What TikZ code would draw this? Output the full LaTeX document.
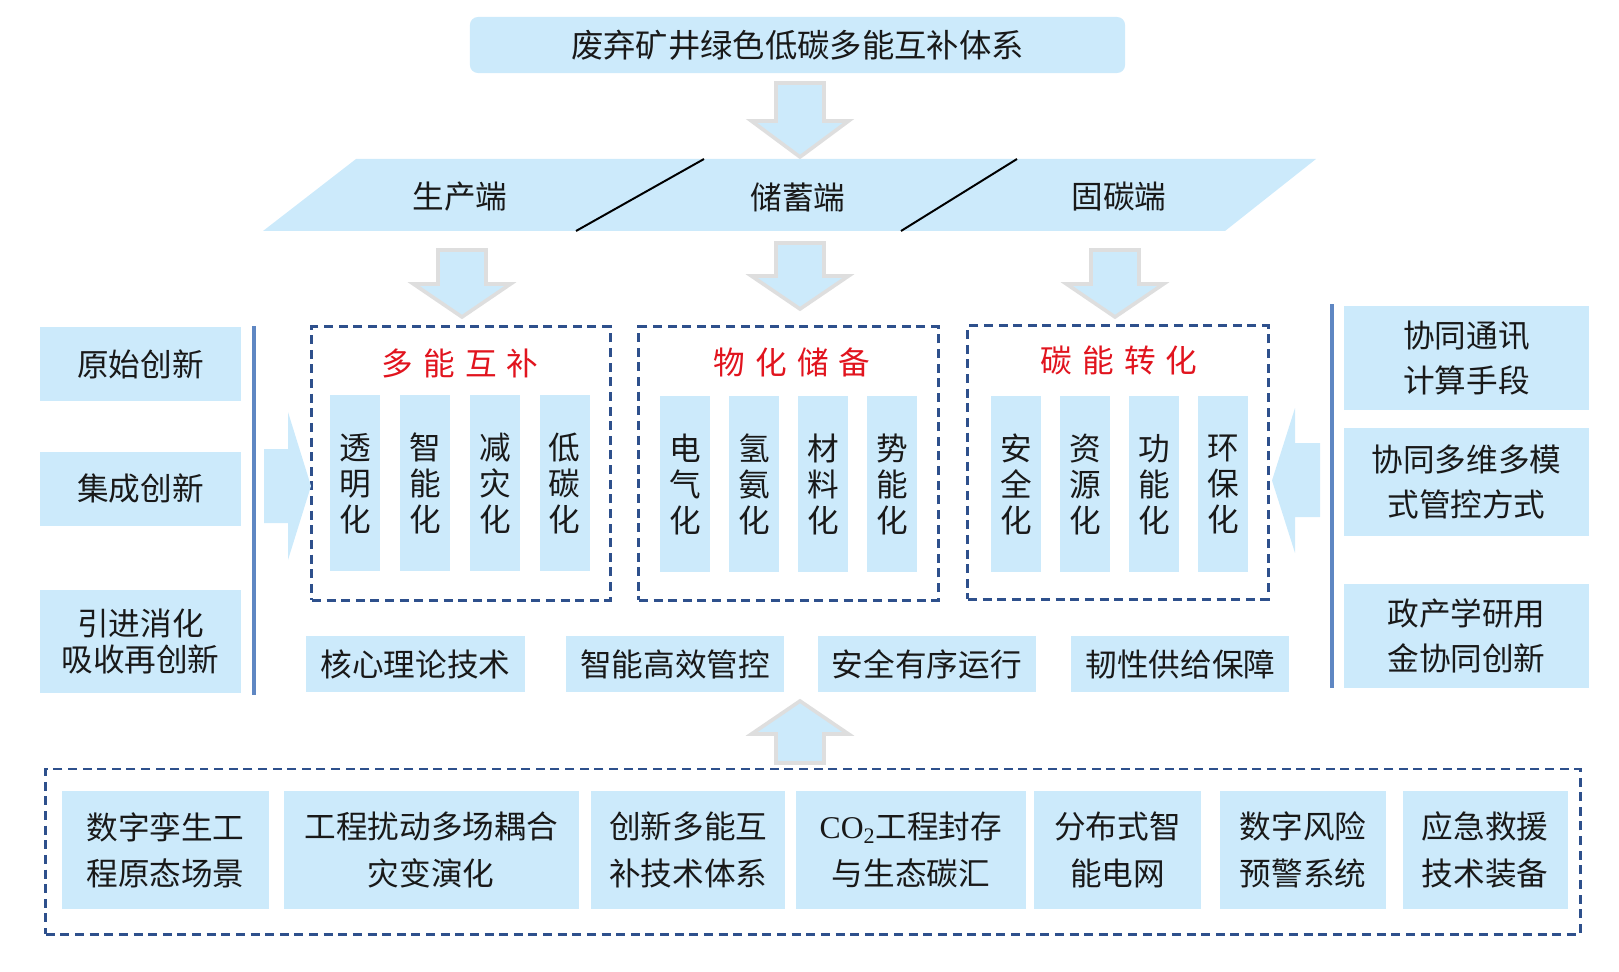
\documentclass[tikz,border=0pt]{standalone}
\usepackage{fontspec}
\setmainfont{Noto Sans CJK SC}
\newfontfamily\latinserif{Liberation Serif}
\usepackage{tikz}
\usetikzlibrary{positioning}
\usepackage{xcolor}
\definecolor{boxBlue}{RGB}{204, 234, 251}
\definecolor{dashNavy}{RGB}{46, 80, 140}
\definecolor{lineSteel}{RGB}{95, 135, 195}
\definecolor{titleRed}{RGB}{225, 20, 30}
\definecolor{arrowGray}{RGB}{222, 222, 222}
\definecolor{inkBlack}{RGB}{25, 25, 25}
\newcommand{\spread}[4]{#1\hspace{.32em}#2\hspace{.32em}#3\hspace{.32em}#4}

\begin{document}
\begin{tikzpicture}[x=0.025cm, y=-0.025cm,
    box/.style={
        rectangle, fill=boxBlue, inner sep=0pt, align=center, text=inkBlack,
        font=\fontsize{22.5}{32}\selectfont
    },
    colbox/.style={box, minimum width=1.25cm, minimum height=4.4cm, font=\fontsize{22.5}{25.6}\selectfont},
    groupbox/.style={draw=dashNavy, line width=2.1pt, dash pattern=on 6.4pt off 4pt},
    grouptitle/.style={text=titleRed, font=\fontsize{22.5}{27}\selectfont},
    endlabel/.style={text=inkBlack, font=\fontsize{22.5}{27}\selectfont},
    fatarrow/.style={fill=boxBlue, draw=arrowGray, line width=2.6pt},
    sideline/.style={draw=lineSteel, line width=2.5pt}
]
\useasboundingbox (0,0) rectangle (1619,972);
% top
\node[box, rounded corners=0.2cm, minimum width=16.375cm, minimum height=1.4cm, font=\fontsize{23}{28}\selectfont] (system) at (797.5,45) {废弃矿井绿色低碳多能互补体系};
\filldraw[fatarrow] (776,83) -- (824,83) -- (824,121) -- (848.5,121) -- (800,157) -- (751.5,121) -- (776,121) -- cycle;
% three ends
\fill[boxBlue] (263,231) -- (356,159) -- (1316,159) -- (1225,231) -- cycle;
\draw[line width=1.4pt] (576,231) -- (704,159);
\draw[line width=1.4pt] (901,231) -- (1017,159);
\node[endlabel] (prodEnd) at (460,197) {生产端};
\node[endlabel] (storeEnd) at (798,197) {储蓄端};
\node[endlabel] (fixEnd) at (1119,197) {固碳端};
\filldraw[fatarrow] (438,250) -- (486,250) -- (486,284) -- (510.5,284) -- (462,317) -- (413.5,284) -- (438,284) -- cycle;
\filldraw[fatarrow] (776,243) -- (824,243) -- (824,276) -- (848.5,276) -- (800,309) -- (751.5,276) -- (776,276) -- cycle;
\filldraw[fatarrow] (1091,250) -- (1139,250) -- (1139,284) -- (1163.5,284) -- (1115,317) -- (1066.5,284) -- (1091,284) -- cycle;
% group boxes
\node[groupbox, minimum width=7.45cm, minimum height=6.825cm] (multi) at (461,463.5) {};
\node[groupbox, minimum width=7.475cm, minimum height=6.825cm] (storage) at (788.5,463.5) {};
\node[groupbox, minimum width=7.5cm, minimum height=6.825cm] (carbon) at (1118,462.5) {};
\node[grouptitle] (multiTitle) at (460,363) {\spread{多}{能}{互}{补}};
\node[grouptitle] (storageTitle) at (792,362) {\spread{物}{化}{储}{备}};
\node[grouptitle] (carbonTitle) at (1119,360) {\spread{碳}{能}{转}{化}};
\node[colbox, anchor=north west] (transp) at (330,395) {透\\明\\化};
\node[colbox, right=0.48cm of transp] (intel) {智\\能\\化};
\node[colbox, right=0.48cm of intel] (mitig) {减\\灾\\化};
\node[colbox, right=0.48cm of mitig] (lowc) {低\\碳\\化};
\node[colbox, anchor=north west] (elec) at (660,396) {电\\气\\化};
\node[colbox, right=0.46cm of elec] (hydro) {氢\\氨\\化};
\node[colbox, right=0.46cm of hydro] (mater) {材\\料\\化};
\node[colbox, right=0.46cm of mater] (poten) {势\\能\\化};
\node[colbox, anchor=north west] (safety) at (991,396) {安\\全\\化};
\node[colbox, right=0.46cm of safety] (resour) {资\\源\\化};
\node[colbox, right=0.46cm of resour] (funct) {功\\能\\化};
\node[colbox, right=0.46cm of funct] (green) {环\\保\\化};
% left side
\node[box, minimum width=5.025cm, minimum height=1.85cm] (original) at (140.5,364) {原始创新};
\node[box, minimum width=5.025cm, minimum height=1.85cm, below=1.25cm of original] (integrated) {集成创新};
\node[box, minimum width=5.025cm, minimum height=2.575cm, below=1.6cm of integrated, font=\fontsize{22.5}{25.5}\selectfont] (absorbed) {引进消化\\吸收再创新};
\draw[sideline] (254,326) -- (254,695);
\fill[boxBlue] (264,449) -- (288,449) -- (288,412) -- (311,486) -- (288,560) -- (288,523) -- (264,523) -- cycle;
% right side
\node[box, minimum width=6.125cm, minimum height=2.6cm] (comm) at (1466.5,358) {协同通讯\\计算手段};
\node[box, minimum width=6.125cm, minimum height=2.7cm, below=0.425cm of comm] (control) {协同多维多模\\式管控方式};
\node[box, minimum width=6.125cm, minimum height=2.6cm, below=1.2cm of control] (coop) {政产学研用\\金协同创新};
\draw[sideline] (1332,304) -- (1332,688);
\fill[boxBlue] (1320,443) -- (1295,443) -- (1295,408) -- (1272,480.5) -- (1295,553) -- (1295,517) -- (1320,517) -- cycle;
% middle row
\node[box, minimum width=5.45cm, minimum height=1.375cm] (theory) at (415.5,664) {核心理论技术};
\node[box, minimum width=5.45cm, minimum height=1.375cm, right=1.025cm of theory] (smart) {智能高效管控};
\node[box, minimum width=5.45cm, minimum height=1.375cm, right=0.825cm of smart] (orderly) {安全有序运行};
\node[box, minimum width=5.45cm, minimum height=1.375cm, right=0.875cm of orderly] (resil) {韧性供给保障};
\filldraw[fatarrow] (776,763) -- (776,734) -- (751.5,734) -- (800,701) -- (848.5,734) -- (824,734) -- (824,763) -- cycle;
% bottom
\node[groupbox, minimum width=38.35cm, minimum height=4.125cm] (support) at (813,851.5) {};
\node[box, minimum width=5.175cm, minimum height=2.95cm, font=\fontsize{22.5}{33}\selectfont] (twin) at (165.5,850) {数字孪生工\\程原态场景};
\node[box, minimum width=7.375cm, minimum height=2.95cm, font=\fontsize{22.5}{33}\selectfont, right=0.35cm of twin] (coupling) {工程扰动多场耦合\\灾变演化};
\node[box, minimum width=4.85cm, minimum height=2.95cm, font=\fontsize{22.5}{33}\selectfont, right=0.3cm of coupling] (techsys) {创新多能互\\补技术体系};
\node[box, minimum width=5.75cm, minimum height=2.95cm, font=\fontsize{22.5}{33}\selectfont, right=0.25cm of techsys] (ccus) {{\latinserif CO\textsubscript{2}}工程封存\\与生态碳汇};
\node[box, minimum width=4.15cm, minimum height=2.95cm, font=\fontsize{22.5}{33}\selectfont, right=0.2cm of ccus] (grid) {分布式智\\能电网};
\node[box, minimum width=4.15cm, minimum height=2.95cm, font=\fontsize{22.5}{33}\selectfont, right=0.475cm of grid] (risk) {数字风险\\预警系统};
\node[box, minimum width=4.125cm, minimum height=2.95cm, font=\fontsize{22.5}{33}\selectfont, right=0.4cm of risk] (rescue) {应急救援\\技术装备};
\end{tikzpicture}
\end{document}
